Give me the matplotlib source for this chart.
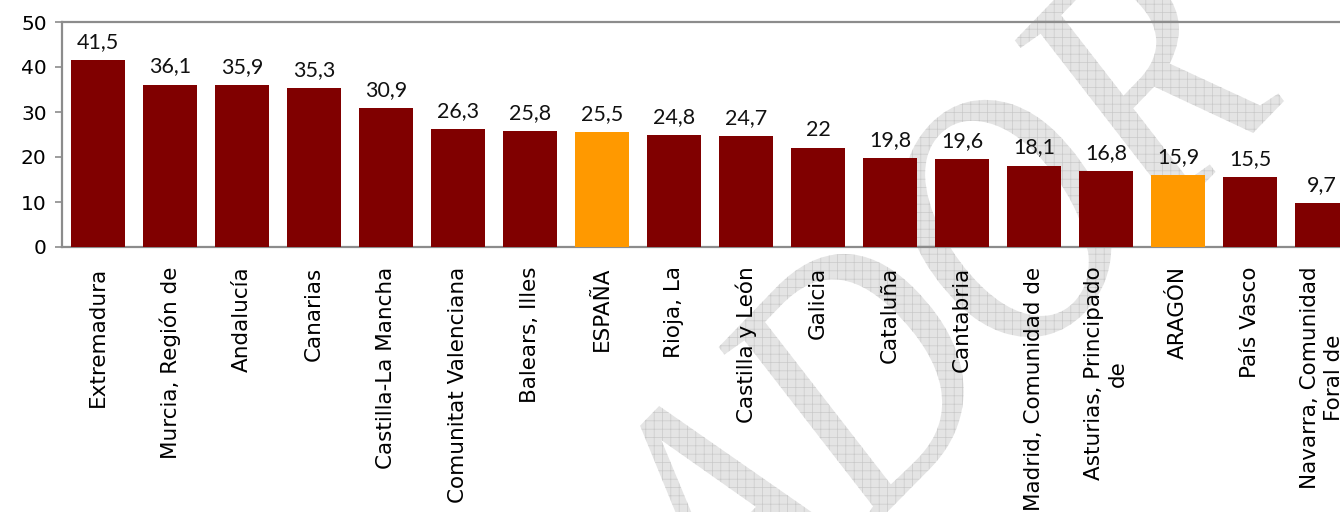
import matplotlib.pyplot as plt
from matplotlib.font_manager import FontProperties
from matplotlib.patches import PathPatch
from matplotlib.textpath import TextPath
from matplotlib.transforms import Affine2D

# Regional values, one bar per community
regiones = [
    "Extremadura", "Murcia, Región de", "Andalucía", "Canarias",
    "Castilla-La Mancha", "Comunitat Valenciana", "Balears, Illes", "ESPAÑA",
    "Rioja, La", "Castilla y León", "Galicia", "Cataluña", "Cantabria",
    "Madrid, Comunidad de", "Asturias, Principado\nde", "ARAGÓN",
    "País Vasco", "Navarra, Comunidad\nForal de",
]
valores = [41.5, 36.1, 35.9, 35.3, 30.9, 26.3, 25.8, 25.5, 24.8, 24.7,
           22, 19.8, 19.6, 18.1, 16.8, 15.9, 15.5, 9.7]
destacadas = ["ESPAÑA", "ARAGÓN"]
y_ticks = [0, 10, 20, 30, 40, 50]

granate = "#800000"
naranja = "#FF9900"
gris = "#8c8c8c"

plt.rcParams["hatch.linewidth"] = 0.5

W, H, DPI = 1340, 512, 100
fig = plt.figure(figsize=(W / DPI, H / DPI), dpi=DPI)

# draft watermark behind the chart
tp = TextPath((0, 0), "BORRADOR", size=360,
              prop=FontProperties(family="Liberation Serif", style="italic"))
ext = tp.get_extents()
tr = (Affine2D().translate(-ext.x1, 0).scale(0.82, 1).rotate_deg(46)
      .translate(1285, H - 100))
marca = PathPatch(tr.transform_path(tp), transform=None,
                  facecolor="#e4e4e4", edgecolor="#c9c9c9", hatch="++",
                  linewidth=0, zorder=-5)
fig.add_artist(marca)

ax = fig.add_axes([62 / W, 1 - 247 / H, 1296 / W, 225 / H])
ax.patch.set_alpha(0)

x = range(len(valores))
colores = [naranja if r in destacadas else granate for r in regiones]
ax.bar(x, valores, width=0.76, color=colores, zorder=3)

for xi, v in zip(x, valores):
    txt = f"{v:g}".replace(".", ",")
    ax.annotate(txt, (xi, v), xytext=(0, 8), textcoords="offset pixels",
                ha="center", va="bottom", fontsize=15.5, family="Lato",
                color="#111111")

ax.set_xlim(-0.5, len(valores) - 0.5)
ax.set_ylim(0, 50)
ax.set_yticks(y_ticks)
ax.set_xticks(list(x))
ax.set_xticklabels(regiones, rotation=90, ha="center", va="top",
                   multialignment="center", fontsize=15.5)
ax.tick_params(axis="x", length=0, pad=14)
ax.tick_params(axis="y", length=5, color=gris, width=1.2, labelsize=14.5, pad=6)

for s in ["left", "bottom", "top"]:
    ax.spines[s].set_color(gris)
    ax.spines[s].set_linewidth(1.6)
ax.spines["right"].set_visible(False)

fig.savefig("out.png", dpi=DPI)
